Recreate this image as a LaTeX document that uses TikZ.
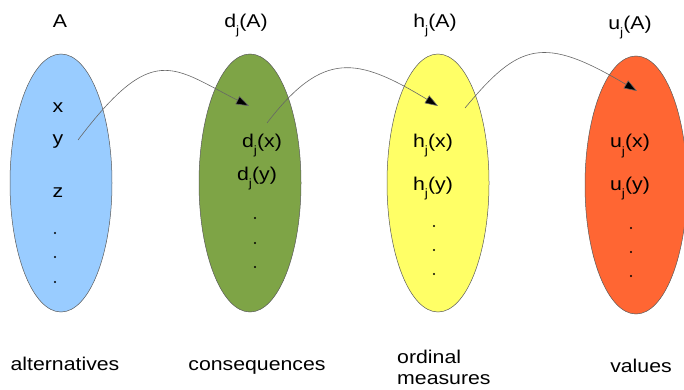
\documentclass[tikz,border=0pt]{standalone}
\usepackage{fontspec}
\setmainfont{Liberation Sans}[FakeStretch=1.15]
\usetikzlibrary{arrows.meta,shapes.geometric}
\definecolor{cblue}{HTML}{99CCFF}
\definecolor{cgreen}{HTML}{7EA446}
\definecolor{cyellow}{HTML}{FFFF66}
\definecolor{corange}{HTML}{FF6633}
\newcommand{\sbj}{\raisebox{-7pt}{\fontsize{12}{12}\selectfont j}}
\begin{document}
\begin{tikzpicture}[x=1pt,y=-1pt,
  ell/.style={ellipse, draw=black!65, line width=0.5pt, inner sep=0pt,
              minimum width=102pt, minimum height=258pt},
  lbl/.style={anchor=base, inner sep=0pt, font=\fontsize{18.5}{21}\selectfont},
  dotn/.style={circle, fill=black, inner sep=0pt, minimum size=2.4pt},
  conn/.style={draw=black!60, line width=0.6pt, -{Triangle[length=13pt,width=9pt,fill=black]}}]
\useasboundingbox (0,0) rectangle (684,390);
% ellipses
\node[ell, fill=cblue]   (E1) at (61,183) {};
\node[ell, fill=cgreen]  (E2) at (250,183) {};
\node[ell, fill=cyellow] (E3) at (438,183) {};
\node[ell, fill=corange] (E4) at (636,185) {};
% top labels
\node[lbl] (tA) at (60,28) {A};
\node[lbl] (tD) at (246,28) {d\sbj(A)};
\node[lbl] (tH) at (435,28) {h\sbj(A)};
\node[lbl] (tU) at (630,30) {u\sbj(A)};
% blue contents
\node[lbl] (bx) at (58,113) {x};
\node[lbl] (by) at (58,145) {y};
\node[lbl] (bz) at (58,197) {z};
\node[dotn] (b1) at (55,233) {};
\node[dotn] (b2) at (55,257) {};
\node[dotn] (b3) at (55,282) {};
% green contents
\node[lbl] (gx) at (262,147) {d\sbj(x)};
\node[lbl] (gy) at (257,180) {d\sbj(y)};
\node[dotn] (g1) at (255,218) {};
\node[dotn] (g2) at (255,243) {};
\node[dotn] (g3) at (255,267) {};
% yellow contents
\node[lbl] (yx) at (433,147) {h\sbj(x)};
\node[lbl] (yy) at (433,190) {h\sbj(y)};
\node[dotn] (y1) at (434,226) {};
\node[dotn] (y2) at (434,250) {};
\node[dotn] (y3) at (434,274) {};
% orange contents
\node[lbl] (ox) at (630,148) {u\sbj(x)};
\node[lbl] (oy) at (630,190) {u\sbj(y)};
\node[dotn] (o1) at (631,228) {};
\node[dotn] (o2) at (631,252) {};
\node[dotn] (o3) at (631,276) {};
% bottom labels
\node[lbl] (lalt) at (65,370) {alternatives};
\node[lbl] (lcon) at (257,370) {consequences};
\node[lbl, anchor=base west, align=left] (lord) at (397,384) {ordinal\\measures};
\node[lbl] (lval) at (641,372) {values};
% connector end points
\coordinate (s1) at (78,140);
\coordinate (e1) at (249,106);
\coordinate (s2) at (267,123);
\coordinate (e2) at (438,106);
\coordinate (s3) at (465,108);
\coordinate (e3) at (637,91);
\draw[conn] (s1) .. controls (153,41) and (172,67) .. (e1);
\draw[conn] (s2) .. controls (323,50) and (357,57) .. (e2);
\draw[conn] (s3) .. controls (519,43) and (543,35) .. (e3);
\end{tikzpicture}
\end{document}
